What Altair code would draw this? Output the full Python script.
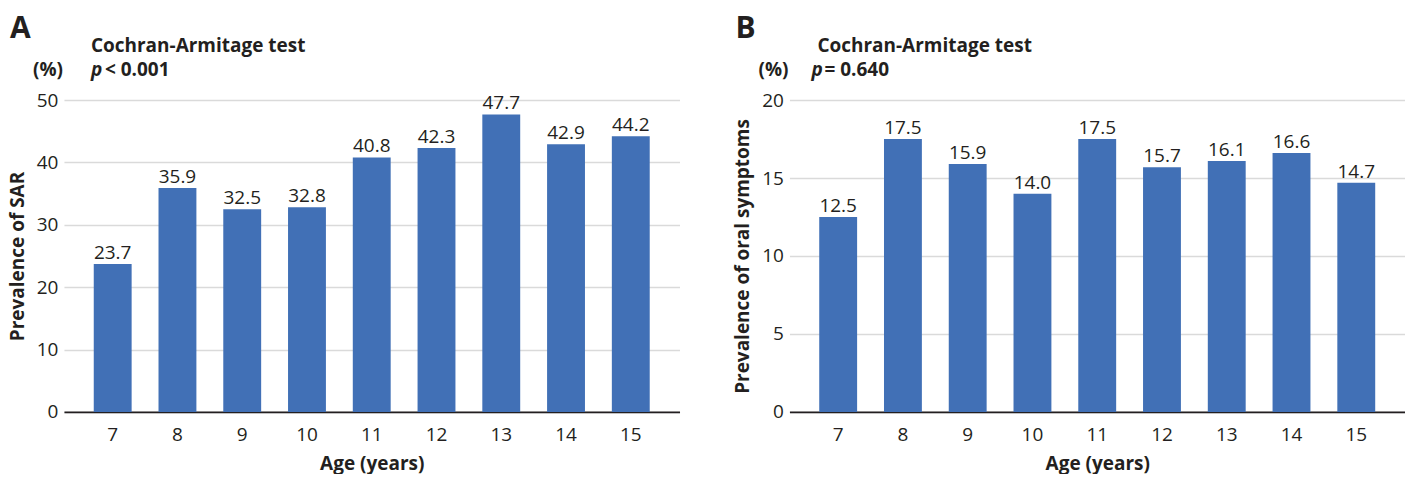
import altair as alt
import pandas as pd

ages = ["7", "8", "9", "10", "11", "12", "13", "14", "15"]
sar = [23.7, 35.9, 32.5, 32.8, 40.8, 42.3, 47.7, 42.9, 44.2]
oral = [12.5, 17.5, 15.9, 14.0, 17.5, 15.7, 16.1, 16.6, 14.7]

FONT = "Open Sans"
BLUE = "#4170b6"
DARK = "#231f20"
W, H = 616, 312


def note(text, x, y, size=19, weight="bold", style="normal", align="left"):
    return alt.Chart(pd.DataFrame({"t": [text]})).mark_text(
        align=align, baseline="alphabetic", font=FONT, fontSize=size,
        fontWeight=weight, fontStyle=style, color=DARK
    ).encode(x=alt.value(x), y=alt.value(y), text="t:N")


def panel(values, letter, ylabel, ymax, ystep, pfirst, prest, px, restx, titlex):
    df = pd.DataFrame({"age": ages, "v": values,
                       "lab": [f"{v:.1f}" for v in values]})
    base = alt.Chart(df)
    xenc = alt.X("age:N", sort=ages, title="Age (years)",
                 scale=alt.Scale(paddingInner=0.415, paddingOuter=0.46),
                 axis=alt.Axis(labelAngle=0, ticks=False, labelPadding=14,
                               domainColor=DARK, domainWidth=1.6, grid=False,
                               titlePadding=10))
    yenc = alt.Y("v:Q", scale=alt.Scale(domain=[0, ymax], nice=False),
                 title=ylabel,
                 axis=alt.Axis(values=list(range(0, ymax + 1, ystep)), ticks=False,
                               domain=False, labelPadding=6, titlePadding=9,
                               gridColor="#dadada", gridWidth=1.5))
    bars = base.mark_bar(color=BLUE).encode(x=xenc, y=yenc)
    labels = base.mark_text(baseline="alphabetic", dy=-5, font=FONT, fontSize=19,
                            color=DARK).encode(
        x=alt.X("age:N", sort=ages), y="v:Q", text="lab:N")
    return alt.layer(
        bars, labels,
        note(letter, -54, -62, size=30),
        note("Cochran-Armitage test", titlex, -48),
        note("(%)", -1, -24, align="right"),
        note(pfirst, px, -24, style="italic"),
        note(prest, restx, -24),
    ).properties(width=W, height=H)


a = panel(sar, "A", "Prevalence of SAR", 50, 10, "p", "< 0.001", 27, 41, 27)
b = panel(oral, "B", "Prevalence of oral symptoms", 20, 5, "p", "= 0.640", 22, 35, 28)

chart = alt.hconcat(a, b, spacing=54).configure(
    padding={"top": 6, "left": 0, "right": 0, "bottom": 0}, font=FONT
).configure_view(stroke=None).configure_axis(
    labelFont=FONT, labelFontSize=19, labelColor=DARK,
    titleFont=FONT, titleFontSize=19, titleFontWeight="bold", titleColor=DARK
)

chart.save("out.html", embed_options={"renderer": "svg", "actions": False})
